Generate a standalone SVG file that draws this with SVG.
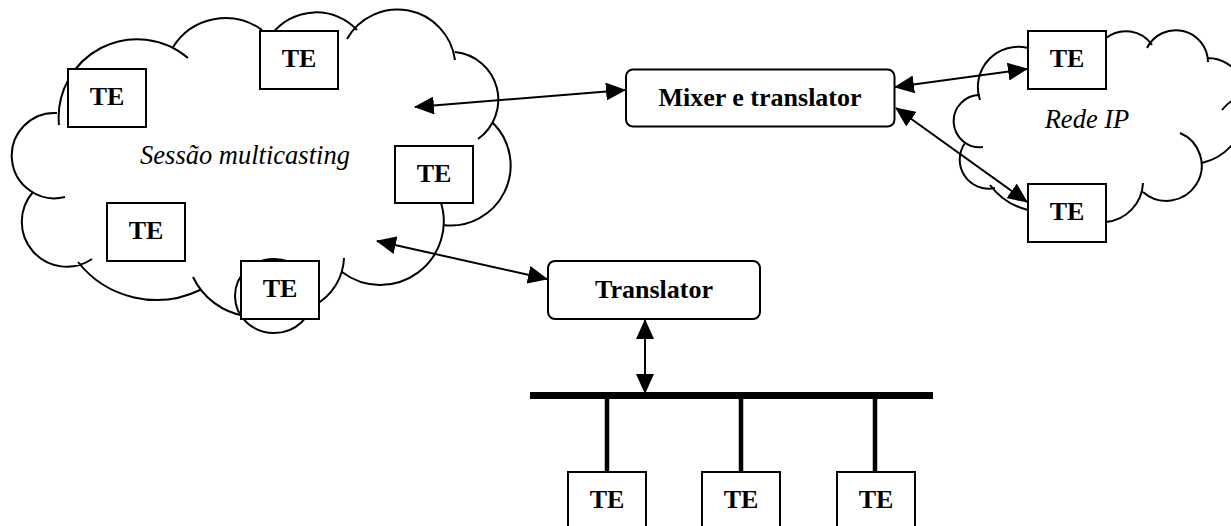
<svg xmlns="http://www.w3.org/2000/svg" width="1231" height="526" viewBox="0 0 1231 526">
  <style>
    .cloud { fill: none; stroke: #000; stroke-width: 2; }
    .box { fill: #fff; stroke: #000; stroke-width: 2; }
    .lbl { font-family: "Liberation Serif", "Times New Roman", serif; font-weight: bold; font-size: 26px; fill: #000; text-anchor: middle; }
    .net { font-family: "Liberation Serif", "Times New Roman", serif; font-style: italic; font-size: 26.5px; fill: #000; text-anchor: middle; }
    .link { fill: none; stroke: #000; stroke-width: 2; marker-start: url(#head); marker-end: url(#head); }
    .bus { stroke: #000; fill: none; }
  </style>
  <defs>
    <marker id="head" markerUnits="userSpaceOnUse" markerWidth="20" markerHeight="18" refX="19" refY="9" orient="auto-start-reverse">
      <path d="M0,0 L20,9 L0,18 z" fill="#000"/>
    </marker>
  </defs>
  <rect width="1231" height="526" fill="#fff"/>

  <!-- multicast session cloud -->
  <g id="cloud-multicast">
    <path class="cloud" d="M 59 125 A 78.4 78.4 0 0 1 188 58
                           M 173 47 A 62 62 0 0 1 262 30
                           M 272 34 A 56 56 0 0 1 357 30
                           M 347 39 A 58 58 0 0 1 455 60
                           M 455 52 A 48 48 0 0 1 478 139
                           M 493 123 A 60 60 0 0 1 443 225
                           M 440 200 A 63.4 63.4 0 0 1 342 272
                           M 344 258 A 56 56 0 0 1 315 305
                           M 193 277 A 70 70 0 0 0 245 316
                           M 78 262 A 100 100 0 0 0 200 290
                           M 33 192 A 45 45 0 0 0 92 259
                           M 57 113 A 42.7 42.7 0 1 0 65 197"/>
    <ellipse class="cloud" cx="274" cy="296" rx="39" ry="37"/>
    <text class="net" x="245" y="164">Sessão multicasting</text>
  </g>

  <!-- IP network cloud -->
  <g id="cloud-ip">
    <path class="cloud" d="M 1106 38 A 32 32 0 0 1 1152 45
                           M 1147 48 A 32.2 32.2 0 0 1 1208 62
                           M 1207 58 A 38 38 0 0 1 1235 122
                           M 1268 97 A 40 40 0 0 0 1222 110
                           M 1202 163 A 59 59 0 0 0 1247 105
                           M 1143 192 A 35.3 35.3 0 1 0 1180 133
                           M 1106 222 A 41 41 0 0 0 1143 183
                           M 990 185 A 67 67 0 0 0 1028 210
                           M 965 143 A 29 29 0 0 0 995 188
                           M 980 95 A 26.1 26.1 0 1 0 983 147
                           M 1028 48 A 40.3 40.3 0 0 0 980 100"/>
    <text class="net" x="1087" y="128">Rede IP</text>
  </g>

  <!-- terminals in the multicast session -->
  <g id="te-m1"><rect class="box" x="260" y="31" width="78" height="58"/><text class="lbl" x="299" y="67">TE</text></g>
  <g id="te-m2"><rect class="box" x="68" y="69" width="78" height="58"/><text class="lbl" x="107" y="105">TE</text></g>
  <g id="te-m3"><rect class="box" x="395" y="146" width="78" height="57"/><text class="lbl" x="434" y="182">TE</text></g>
  <g id="te-m4"><rect class="box" x="107" y="203" width="78" height="58"/><text class="lbl" x="146" y="239">TE</text></g>
  <g id="te-m5"><rect class="box" x="241" y="261" width="78" height="58"/><text class="lbl" x="280" y="297">TE</text></g>

  <!-- terminals in the IP network -->
  <g id="te-ip1"><rect class="box" x="1028" y="31" width="78" height="58"/><text class="lbl" x="1067" y="67">TE</text></g>
  <g id="te-ip2"><rect class="box" x="1028" y="184" width="78" height="58"/><text class="lbl" x="1067" y="220">TE</text></g>

  <!-- mixer and translators -->
  <g id="mixer"><rect class="box" x="626" y="69.5" width="268.5" height="57" rx="7"/><text class="lbl" x="760" y="106">Mixer e translator</text></g>
  <g id="translator"><rect class="box" x="548" y="261" width="212" height="58" rx="7"/><text class="lbl" x="654" y="298">Translator</text></g>

  <!-- LAN terminals -->
  <g id="te-lan1"><rect class="box" x="568" y="472" width="78" height="58"/><text class="lbl" x="607" y="508">TE</text></g>
  <g id="te-lan2"><rect class="box" x="702" y="472" width="78" height="58"/><text class="lbl" x="741" y="508">TE</text></g>
  <g id="te-lan3"><rect class="box" x="837" y="472" width="78" height="58"/><text class="lbl" x="876" y="508">TE</text></g>

  <!-- connectors -->
  <g id="connectors">
    <line class="link" x1="415" y1="107" x2="625" y2="90"/>
    <line class="link" x1="895" y1="87" x2="1027" y2="69"/>
    <line class="link" x1="896" y1="108" x2="1027" y2="202"/>
    <line class="link" x1="377" y1="241" x2="547" y2="279"/>
    <line class="link" x1="645" y1="320" x2="645" y2="393"/>
    <line class="bus" x1="530" y1="395.5" x2="933" y2="395.5" stroke-width="7"/>
    <line class="bus" x1="607" y1="395" x2="607" y2="472" stroke-width="4.5"/>
    <line class="bus" x1="741" y1="395" x2="741" y2="472" stroke-width="4.5"/>
    <line class="bus" x1="875" y1="395" x2="875" y2="472" stroke-width="4.5"/>
  </g>
</svg>
